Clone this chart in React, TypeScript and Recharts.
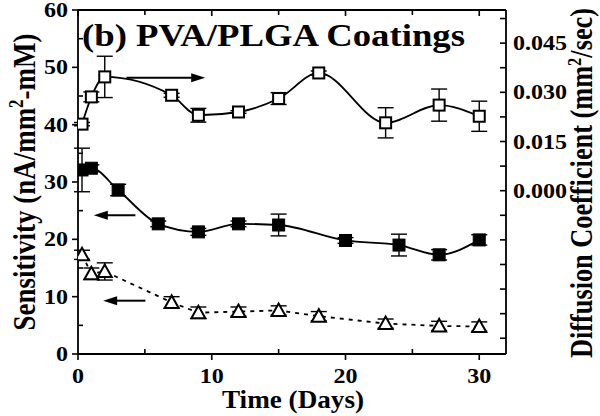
import React from 'react';
import { LineChart, Line, XAxis, YAxis, ErrorBar, ReferenceLine } from 'recharts';

// Sensitivity, filled squares (left axis)
const sensDays = [0.3, 1, 3, 6, 9, 12, 15, 20, 24, 27, 30];
const sensValues = [32.1, 32.4, 28.6, 22.7, 21.3, 22.7, 22.5, 19.8, 19.0, 17.3, 19.9];
const sensErrors = [3.8, 0.6, 1.0, 0.5, 0.6, 0.5, 1.9, 0.5, 1.9, 0.9, 0.9];

// Diffusion coefficient, open squares (right axis)
const diffDays = [0.3, 1, 2, 7, 9, 12, 15, 18, 23, 27, 30];
const diffValues = [0.0203, 0.0286, 0.0347, 0.0291, 0.023, 0.024, 0.0281, 0.0359, 0.0207, 0.0261, 0.0227];
const diffErrors = [0.0005, 0.0015, 0.0063, 0.0006, 0.0021, 0.0004, 0.0018, 0.0006, 0.0046, 0.0049, 0.0046];

// Open triangles (left axis)
const triDays = [0.3, 1, 2, 7, 9, 12, 15, 18, 23, 27, 30];
const triValues = [17.3, 14.0, 14.4, 9.0, 7.2, 7.4, 7.6, 6.6, 5.3, 4.9, 4.8];
const triErrors = [0.8, 1.0, 1.5, 1.0, 1.0, 0.8, 0.8, 0.8, 0.8, 0.8, 0.8];

// Axis ticks
const xTicks = [0, 5, 10, 15, 20, 25, 30];
const xLabels = [0, 10, 20, 30];
const leftTicks = [0, 5, 10, 15, 20, 25, 30, 35, 40, 45, 50, 55, 60];
const leftLabels = [0, 10, 20, 30, 40, 50, 60];
const rightTicks = [-0.045, -0.0375, -0.03, -0.0225, -0.015, -0.0075, 0, 0.0075, 0.015, 0.0225, 0.03, 0.0375, 0.045, 0.0525];
const rightLabels = ['0.000', '0.015', '0.030', '0.045'];

// Arrow annotations (left axis units): [xFrom, xTo, y]
const arrowRight = [3.62, 9.51, 48.2];
const arrowSens = [4.29, 1.18, 24.2];
const arrowTri = [5.04, 1.88, 9.3];

const FONT = "'Liberation Serif', 'Times New Roman', serif";

const toRows = (xs: number[], ys: number[], es: number[]) =>
  xs.map((x, i) => ({ x, y: ys[i], e: es[i] }));

const sensData = toRows(sensDays, sensValues, sensErrors);
const diffData = toRows(diffDays, diffValues, diffErrors);
const triData = toRows(triDays, triValues, triErrors);

const textStyle = { fontFamily: FONT, fontWeight: 700, fill: '#000' } as const;

const BottomTick = (p: any) => {
  const v = p.payload.value;
  const major = xLabels.includes(v);
  return (
    <g>
      <line x1={p.x} x2={p.x} y1={p.y} y2={major ? p.y + 6 : p.y - 5} stroke="#000" strokeWidth={1.6} />
      {major && (
        <text transform={`translate(${p.x},${p.y + 29}) scale(1.2,1)`} textAnchor="middle" fontSize={20} style={textStyle}>
          {v}
        </text>
      )}
    </g>
  );
};

const TopTick = (p: any) => (
  <line x1={p.x} x2={p.x} y1={p.y} y2={p.y + (xLabels.includes(p.payload.value) ? 6 : 5)} stroke="#000" strokeWidth={1.6} />
);

const LeftTick = (p: any) => {
  const v = p.payload.value;
  const major = leftLabels.includes(v);
  return (
    <g>
      <line x1={p.x} x2={major ? p.x - 6 : p.x + 5} y1={p.y} y2={p.y} stroke="#000" strokeWidth={1.6} />
      {major && (
        <text transform={`translate(${p.x - 10},${p.y + 7}) scale(1.2,1)`} textAnchor="end" fontSize={20} style={textStyle}>
          {v}
        </text>
      )}
    </g>
  );
};

const RightTick = (p: any) => {
  const v = p.payload.value;
  const lbl = v.toFixed(3);
  const major = rightLabels.includes(lbl) && v >= 0;
  return (
    <g>
      <line x1={p.x} x2={p.x - 6} y1={p.y} y2={p.y} stroke="#000" strokeWidth={1.6} />
      {major && (
        <text transform={`translate(${p.x + 7},${p.y + 7}) scale(1.2,1)`} textAnchor="start" fontSize={20} style={textStyle}>
          {lbl}
        </text>
      )}
    </g>
  );
};

const FilledSquare = (p: any) => (
  <rect key={`fs-${p.index}`} x={p.cx - 6} y={p.cy - 6} width={12} height={12} fill="#000" stroke="#000" strokeWidth={1} />
);
const OpenSquare = (p: any) => (
  <rect key={`os-${p.index}`} x={p.cx - 5.5} y={p.cy - 5.5} width={11} height={11} fill="#fff" stroke="#000" strokeWidth={2} />
);
const OpenTriangle = (p: any) => (
  <polygon
    key={`ot-${p.index}`}
    points={`${p.cx},${p.cy - 7} ${p.cx - 7},${p.cy + 5.5} ${p.cx + 7},${p.cy + 5.5}`}
    fill="#fff"
    stroke="#000"
    strokeWidth={2}
  />
);

const ArrowShape = (p: any) => {
  const { x1, y1, x2, y2 } = p;
  const dir = x2 > x1 ? 1 : -1;
  const len = 14;
  return (
    <g>
      <line x1={x1} y1={y1} x2={x2 - dir * (len - 2)} y2={y2} stroke="#000" strokeWidth={2} />
      <polygon points={`${x2},${y2} ${x2 - dir * len},${y2 - 4.5} ${x2 - dir * len},${y2 + 4.5}`} fill="#000" />
    </g>
  );
};

const arrowSegment = (a: number[]) => [
  { x: a[0], y: a[2] },
  { x: a[1], y: a[2] },
];

export default function App() {
  return (
    <div style={{ position: 'absolute', left: 0, top: 0, width: 600, height: 416, background: '#fff', overflow: 'hidden' }}>
      <LineChart width={600} height={416} margin={{ top: 0, right: 0, bottom: 0, left: 0 }}>
        <XAxis
          xAxisId="bottom"
          dataKey="x"
          type="number"
          domain={[0, 32]}
          allowDataOverflow
          ticks={xTicks}
          interval={0}
          height={62}
          tickSize={0}
          tickMargin={0}
          tickLine={false}
          tick={<BottomTick />}
          axisLine={{ stroke: '#000', strokeWidth: 1.8 }}
        />
        <XAxis
          xAxisId="top"
          orientation="top"
          dataKey="x"
          type="number"
          domain={[0, 32]}
          allowDataOverflow
          ticks={xTicks}
          interval={0}
          height={10}
          tickSize={0}
          tickMargin={0}
          tickLine={false}
          tick={<TopTick />}
          axisLine={{ stroke: '#000', strokeWidth: 1.8 }}
        />
        <YAxis
          yAxisId="left"
          type="number"
          domain={[0, 60]}
          allowDataOverflow
          ticks={leftTicks}
          interval={0}
          width={78}
          tickSize={0}
          tickMargin={0}
          tickLine={false}
          tick={<LeftTick />}
          axisLine={{ stroke: '#000', strokeWidth: 1.8 }}
        />
        <YAxis
          yAxisId="right"
          orientation="right"
          type="number"
          domain={[-0.0498, 0.0551]}
          allowDataOverflow
          ticks={rightTicks}
          interval={0}
          width={94}
          tickSize={0}
          tickMargin={0}
          tickLine={false}
          tick={<RightTick />}
          axisLine={{ stroke: '#000', strokeWidth: 1.8 }}
        />

        <Line
          xAxisId="bottom"
          yAxisId="left"
          data={triData}
          dataKey="y"
          type="linear"
          stroke="#000"
          strokeWidth={1.8}
          strokeDasharray="4 5"
          dot={OpenTriangle}
          activeDot={false}
          isAnimationActive={false}
        >
          <ErrorBar dataKey="e" direction="y" width={8} stroke="#000" strokeWidth={1.4} />
        </Line>
        <Line
          xAxisId="bottom"
          yAxisId="left"
          data={sensData}
          dataKey="y"
          type="monotone"
          stroke="#000"
          strokeWidth={1.8}
          dot={FilledSquare}
          activeDot={false}
          isAnimationActive={false}
        >
          <ErrorBar dataKey="e" direction="y" width={8} stroke="#000" strokeWidth={1.4} />
        </Line>
        <Line
          xAxisId="bottom"
          yAxisId="right"
          data={diffData}
          dataKey="y"
          type="monotone"
          stroke="#000"
          strokeWidth={1.8}
          dot={OpenSquare}
          activeDot={false}
          isAnimationActive={false}
        >
          <ErrorBar dataKey="e" direction="y" width={8} stroke="#000" strokeWidth={1.4} />
        </Line>

        <ReferenceLine xAxisId="bottom" yAxisId="left" segment={arrowSegment(arrowRight)} shape={ArrowShape} ifOverflow="visible" />
        <ReferenceLine xAxisId="bottom" yAxisId="left" segment={arrowSegment(arrowSens)} shape={ArrowShape} ifOverflow="visible" />
        <ReferenceLine xAxisId="bottom" yAxisId="left" segment={arrowSegment(arrowTri)} shape={ArrowShape} ifOverflow="visible" />
      </LineChart>

      <svg width={600} height={416} style={{ position: 'absolute', left: 0, top: 0, pointerEvents: 'none' }}>
        <text x={82} y={46} fontSize={32} textLength={383} lengthAdjust="spacingAndGlyphs" style={textStyle}>
          (b) PVA/PLGA Coatings
        </text>
        <text x={293} y={408} fontSize={25} textAnchor="middle" textLength={142} lengthAdjust="spacingAndGlyphs" style={textStyle}>
          Time (Days)
        </text>
        <text transform="translate(35,182) scale(1.2,1) rotate(-90)" fontSize={27} textAnchor="middle" style={textStyle}>
          Sensitivity (nA/mm<tspan dy={-10} fontSize={17}>2</tspan><tspan dy={10}>-mM)</tspan>
        </text>
        <text
          transform="translate(592,358) scale(1.15,1) rotate(-90)"
          fontSize={27}
          textAnchor="start"
          textLength={350}
          lengthAdjust="spacingAndGlyphs"
          style={textStyle}
        >
          Diffusion Coefficient (mm<tspan dy={-10} fontSize={17}>2</tspan><tspan dy={10}>/sec)</tspan>
        </text>
      </svg>
    </div>
  );
}
